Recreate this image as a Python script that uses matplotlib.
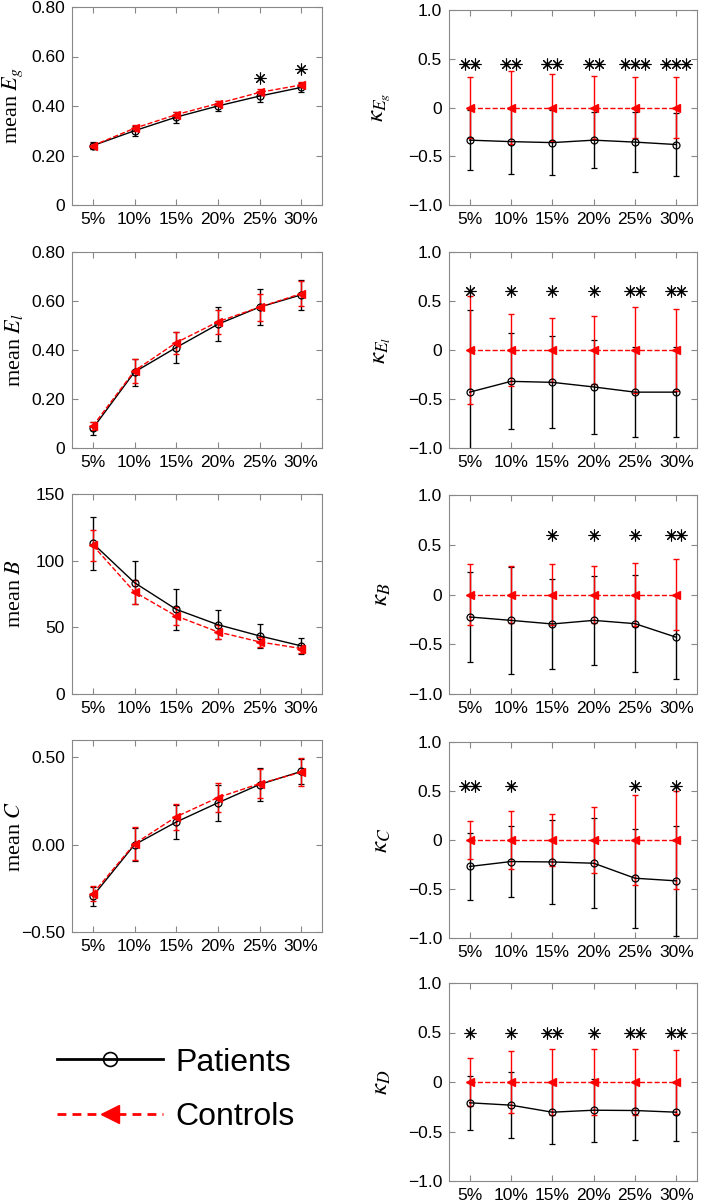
import matplotlib
matplotlib.use('Agg')
import matplotlib.pyplot as plt
import numpy as np
from matplotlib.lines import Line2D

plt.rcParams['font.family'] = ['Liberation Sans', 'DejaVu Sans']
plt.rcParams['mathtext.fontset'] = 'stix'

x_labels = ['5%', '10%', '15%', '20%', '25%', '30%']

# left column: means
mean_eg_pat = [0.24, 0.30, 0.355, 0.40, 0.44, 0.475]
mean_eg_pat_err = [0.015, 0.02, 0.022, 0.022, 0.022, 0.018]
mean_eg_con = [0.24, 0.31, 0.365, 0.41, 0.455, 0.485]
mean_eg_con_err = [0.01, 0.012, 0.012, 0.012, 0.012, 0.01]
mean_eg_stars = [0, 0, 0, 0, 1, 1]
mean_eg_star_y = [0, 0, 0, 0, 0.515, 0.55]

mean_el_pat = [0.08, 0.31, 0.41, 0.505, 0.575, 0.625]
mean_el_pat_err = [0.028, 0.055, 0.065, 0.07, 0.072, 0.062]
mean_el_con = [0.09, 0.315, 0.43, 0.515, 0.575, 0.63]
mean_el_con_err = [0.015, 0.05, 0.045, 0.05, 0.055, 0.05]

mean_b_pat = [113, 83.5, 63.5, 52, 43.6, 36.1]
mean_b_pat_err = [20, 16, 15.5, 11, 9, 6]
mean_b_con = [111.5, 76.5, 58.5, 46.6, 39.1, 34.1]
mean_b_con_err = [11.5, 9, 7, 5.5, 4, 3]

mean_c_pat = [-0.295, 0.0, 0.13, 0.24, 0.345, 0.42]
mean_c_pat_err = [0.055, 0.095, 0.10, 0.105, 0.095, 0.07]
mean_c_con = [-0.28, 0.005, 0.16, 0.27, 0.35, 0.415]
mean_c_con_err = [0.045, 0.095, 0.075, 0.085, 0.085, 0.08]

# right column: kappa (controls are 0 by construction)
kappa_con = [0, 0, 0, 0, 0, 0]

kappa_eg_pat = [-0.335, -0.35, -0.36, -0.335, -0.355, -0.38]
kappa_eg_pat_err = [0.305, 0.33, 0.33, 0.29, 0.305, 0.32]
kappa_eg_con_err = [0.31, 0.37, 0.345, 0.32, 0.315, 0.31]
kappa_eg_stars = [2, 2, 2, 2, 3, 3]

kappa_el_pat = [-0.43, -0.32, -0.33, -0.377, -0.43, -0.43]
kappa_el_pat_err = [0.84, 0.49, 0.47, 0.48, 0.46, 0.46]
kappa_el_con_err = [0.55, 0.37, 0.33, 0.35, 0.44, 0.42]
kappa_el_stars = [1, 1, 1, 1, 2, 2]

kappa_b_pat = [-0.226, -0.26, -0.296, -0.26, -0.293, -0.43]
kappa_b_pat_err = [0.45, 0.54, 0.455, 0.45, 0.49, 0.42]
kappa_b_con_err = [0.31, 0.29, 0.305, 0.286, 0.32, 0.355]
kappa_b_stars = [0, 0, 1, 1, 1, 2]

kappa_c_pat = [-0.27, -0.22, -0.224, -0.237, -0.39, -0.417]
kappa_c_pat_err = [0.34, 0.365, 0.427, 0.46, 0.505, 0.56]
kappa_c_con_err = [0.19, 0.30, 0.27, 0.34, 0.46, 0.50]
kappa_c_stars = [2, 1, 0, 0, 1, 1]

kappa_d_pat = [-0.21, -0.234, -0.305, -0.285, -0.288, -0.305]
kappa_d_pat_err = [0.27, 0.33, 0.32, 0.32, 0.30, 0.29]
kappa_d_con_err = [0.24, 0.315, 0.335, 0.335, 0.335, 0.325]
kappa_d_stars = [1, 1, 2, 1, 2, 2]

W, H = 701, 1202
fig = plt.figure(figsize=(W / 100, H / 100), dpi=100)


def px_axes(x0, x1, top, bottom):
    return fig.add_axes([x0 / W, 1 - bottom / H, (x1 - x0) / W, (bottom - top) / H])


def draw_panel(ax, pat, pat_err, con, con_err, ylim, yticks, yticklabels,
               ylabel, stars=None, star_y=None, left=True):
    x = np.arange(1, len(x_labels) + 1)
    ax.errorbar(x, pat, yerr=pat_err, color='black', marker='o', mfc='none',
                ms=5, mew=0.9, lw=1, elinewidth=1, capsize=2.5, capthick=1)
    ax.errorbar(x, con, yerr=con_err, color='red', ls='--', marker='<',
                ms=5.5, lw=1, elinewidth=1, capsize=2.5, capthick=1)
    if stars is not None:
        for xi, n, sy in zip(x, stars, star_y):
            if n == 0:
                continue
            offs = (np.arange(n) - (n - 1) / 2) * 0.245
            ax.plot(xi + offs, [sy] * n, ls='none', marker=(8, 2, 0),
                    color='black', ms=8.5, mew=0.8)
    ax.set_xlim(0.5, 6.5)
    ax.set_ylim(*ylim)
    ax.set_xticks(x)
    ax.set_xticklabels(x_labels)
    ax.set_yticks(yticks)
    ax.set_yticklabels(yticklabels)
    ax.tick_params(direction='in', top=True, right=True, length=4,
                   color='#888888', labelsize=12.5, pad=5)
    for s in ax.spines.values():
        s.set_color('#888888')
        s.set_linewidth(0.8)
    if left:
        ax.set_ylabel(ylabel, fontsize=16, family='Liberation Serif')
        ax.yaxis.set_label_coords(-0.188, 0.5)
    else:
        ax.set_ylabel(ylabel, fontsize=18, family='Liberation Serif')
        ax.yaxis.set_label_coords(-0.225, 0.5)


kap_ticks = [-1, -0.5, 0, 0.5, 1]
kap_labels = ['\u22121.0', '\u22120.5', '0', '0.5', '1.0']

ax = px_axes(72, 322, 7, 205)
draw_panel(ax, mean_eg_pat, mean_eg_pat_err, mean_eg_con, mean_eg_con_err,
           (0, 0.8), [0, 0.2, 0.4, 0.6, 0.8], ['0', '0.20', '0.40', '0.60', '0.80'],
           'mean $E_g$', mean_eg_stars, mean_eg_star_y)

ax = px_axes(449, 697, 10, 205)
draw_panel(ax, kappa_eg_pat, kappa_eg_pat_err, kappa_con, kappa_eg_con_err,
           (-1, 1), kap_ticks, kap_labels, r'$\kappa_{E_g}$',
           kappa_eg_stars, [0.45] * 6, left=False)

ax = px_axes(72, 322, 252, 448)
draw_panel(ax, mean_el_pat, mean_el_pat_err, mean_el_con, mean_el_con_err,
           (0, 0.8), [0, 0.2, 0.4, 0.6, 0.8], ['0', '0.20', '0.40', '0.60', '0.80'],
           'mean $E_l$')

ax = px_axes(449, 697, 252, 448)
draw_panel(ax, kappa_el_pat, kappa_el_pat_err, kappa_con, kappa_el_con_err,
           (-1, 1), kap_ticks, kap_labels, r'$\kappa_{E_l}$',
           kappa_el_stars, [0.6] * 6, left=False)

ax = px_axes(72, 322, 494, 694)
draw_panel(ax, mean_b_pat, mean_b_pat_err, mean_b_con, mean_b_con_err,
           (0, 150), [0, 50, 100, 150], ['0', '50', '100', '150'], 'mean $B$')

ax = px_axes(449, 697, 495, 694)
draw_panel(ax, kappa_b_pat, kappa_b_pat_err, kappa_con, kappa_b_con_err,
           (-1, 1), kap_ticks, kap_labels, r'$\kappa_{B}$',
           kappa_b_stars, [0.6] * 6, left=False)

ax = px_axes(72, 322, 740, 932)
draw_panel(ax, mean_c_pat, mean_c_pat_err, mean_c_con, mean_c_con_err,
           (-0.5, 0.6), [-0.5, 0, 0.5], ['\u22120.50', '0.00', '0.50'], 'mean $C$')

ax = px_axes(449, 697, 742, 938)
draw_panel(ax, kappa_c_pat, kappa_c_pat_err, kappa_con, kappa_c_con_err,
           (-1, 1), kap_ticks, kap_labels, r'$\kappa_{C}$',
           kappa_c_stars, [0.55] * 6, left=False)

ax = px_axes(449, 697, 983, 1181)
draw_panel(ax, kappa_d_pat, kappa_d_pat_err, kappa_con, kappa_d_con_err,
           (-1, 1), kap_ticks, kap_labels, r'$\kappa_{D}$',
           kappa_d_stars, [0.5] * 6, left=False)

handles = [
    Line2D([], [], color='black', marker='o', mfc='none', ms=10, mew=1.2, lw=2),
    Line2D([], [], color='red', ls='--', marker='<', ms=13, lw=2, dashes=(3.2, 2.2)),
]
fig.legend(handles, ['Patients', 'Controls'], loc='center',
           bbox_to_anchor=(176 / W, 1 - 1090 / H), frameon=False, fontsize=23,
           handlelength=3.3, handletextpad=0.4, labelspacing=0.78, numpoints=1)

fig.savefig('out.png', dpi=100)
